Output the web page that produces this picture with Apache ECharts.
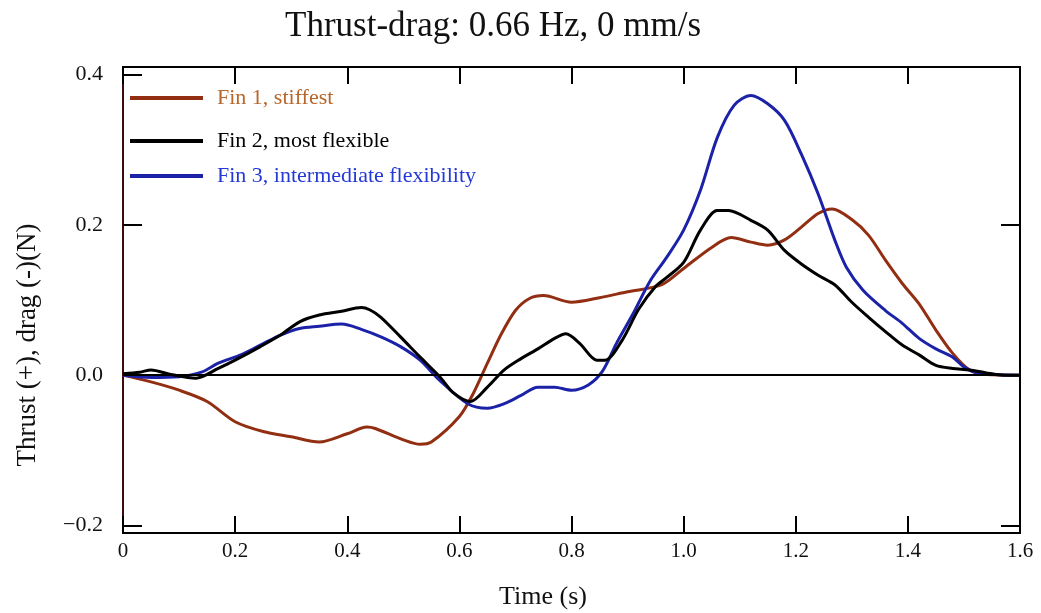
<!DOCTYPE html>
<html>
<head>
<meta charset="utf-8">
<script src="https://cdn.jsdelivr.net/npm/echarts@6/dist/echarts.min.js"></script>
<style>
  html, body { margin: 0; padding: 0; background: #fff; }
  #chart { width: 1041px; height: 613px; }
</style>
</head>
<body>
<div id="chart"></div>
<script>
// 数据：时间 (s) 与推力/阻力 (N)
var fin1Time = [0, 0.05, 0.1, 0.15, 0.2, 0.25, 0.3, 0.35, 0.4, 0.435, 0.45, 0.5, 0.53, 0.55, 0.6, 0.625, 0.65, 0.675, 0.7, 0.725, 0.75, 0.8, 0.85, 0.9, 0.96, 1.0, 1.05, 1.085, 1.12, 1.15, 1.18, 1.21, 1.24, 1.265, 1.3, 1.33, 1.36, 1.39, 1.42, 1.45, 1.48, 1.51, 1.54, 1.6];
var fin1Value = [0, -0.009, -0.020, -0.035, -0.062, -0.075, -0.082, -0.089, -0.078, -0.069, -0.071, -0.086, -0.092, -0.089, -0.055, -0.024, 0.016, 0.055, 0.086, 0.102, 0.106, 0.097, 0.103, 0.111, 0.120, 0.142, 0.170, 0.183, 0.177, 0.173, 0.180, 0.197, 0.215, 0.221, 0.207, 0.186, 0.153, 0.122, 0.095, 0.060, 0.029, 0.007, 0.001, 0];

var fin2Time = [0, 0.03, 0.05, 0.085, 0.13, 0.17, 0.2, 0.245, 0.28, 0.315, 0.35, 0.39, 0.425, 0.44, 0.46, 0.495, 0.53, 0.565, 0.59, 0.62, 0.65, 0.68, 0.71, 0.74, 0.77, 0.79, 0.815, 0.845, 0.86, 0.89, 0.92, 0.95, 0.97, 1.0, 1.03, 1.06, 1.08, 1.12, 1.15, 1.18, 1.21, 1.24, 1.27, 1.3, 1.33, 1.36, 1.39, 1.42, 1.45, 1.48, 1.51, 1.54, 1.57, 1.6];
var fin2Value = [0.002, 0.004, 0.007, 0.001, -0.004, 0.009, 0.020, 0.038, 0.053, 0.071, 0.080, 0.085, 0.090, 0.087, 0.077, 0.051, 0.024, -0.002, -0.024, -0.035, -0.016, 0.007, 0.022, 0.035, 0.049, 0.055, 0.042, 0.020, 0.020, 0.046, 0.088, 0.118, 0.130, 0.150, 0.193, 0.219, 0.219, 0.206, 0.193, 0.166, 0.148, 0.133, 0.120, 0.097, 0.077, 0.058, 0.040, 0.027, 0.013, 0.009, 0.007, 0.003, 0, 0];

var fin3Time = [0, 0.05, 0.1, 0.14, 0.17, 0.21, 0.245, 0.28, 0.315, 0.35, 0.39, 0.425, 0.46, 0.495, 0.53, 0.565, 0.615, 0.65, 0.68, 0.71, 0.74, 0.77, 0.8, 0.83, 0.855, 0.88, 0.91, 0.94, 0.97, 1.0, 1.03, 1.06, 1.09, 1.12, 1.15, 1.18, 1.21, 1.24, 1.27, 1.29, 1.32, 1.36, 1.39, 1.42, 1.45, 1.48, 1.5, 1.525, 1.6];
var fin3Value = [0, -0.003, -0.002, 0.004, 0.016, 0.027, 0.040, 0.053, 0.062, 0.065, 0.068, 0.061, 0.051, 0.038, 0.020, -0.007, -0.038, -0.044, -0.038, -0.027, -0.016, -0.016, -0.020, -0.013, 0.005, 0.042, 0.082, 0.125, 0.157, 0.193, 0.246, 0.316, 0.359, 0.372, 0.361, 0.339, 0.294, 0.241, 0.179, 0.144, 0.113, 0.086, 0.069, 0.049, 0.035, 0.024, 0.011, 0.003, 0];

var yTickValues = [-0.2, 0, 0.2, 0.4];
var yTickValuesRight = [-0.2, 0, 0.2];
var seriesNames = ['Fin 1, stiffest', 'Fin 2, most flexible', 'Fin 3, intermediate flexibility'];

var thrustDragChart = {
	/**
	 * 组合 [时间, 数值] 数据对
	 */
	pairs : function(timeArray, valueArray) {
		var data = [];
		for (var i = 0; i < timeArray.length; i++) {
			data.push([timeArray[i], valueArray[i]]);
		}
		return data;
	},
	/**
	 * 显示图表
	 */
	showChart : function() {
		var myChart = echarts.init(document.getElementById('chart'));
		var serif = 'Liberation Serif';
		var lineColors = ['#922f12', '#000000', '#1c22a8'];
		var textColors = ['#b8662a', '#000000', '#2438d6'];
		var legendTops = [82, 125, 160];
		var legends = [];
		for (var i = 0; i < 3; i++) {
			legends.push({
				left: 125,
				top: legendTops[i],
				icon: 'rect',
				itemWidth: 73,
				itemHeight: 4,
				data: [seriesNames[i]],
				textStyle: {
					fontFamily: serif,
					fontSize: 22,
					color: textColors[i],
					padding: [0, 0, 0, 9]
				}
			});
		}
		var seriesData = [
			thrustDragChart.pairs(fin1Time, fin1Value),
			thrustDragChart.pairs(fin2Time, fin2Value),
			thrustDragChart.pairs(fin3Time, fin3Value)
		];
		var series = [];
		for (var j = 0; j < 3; j++) {
			series.push({
				name: seriesNames[j],
				type: 'line',
				data: seriesData[j],
				showSymbol: false,
				smooth: 0.3,
				z: j == 0 ? 3 : (j == 2 ? 4 : 5),
				lineStyle: { color: lineColors[j], width: 3 },
				itemStyle: { color: lineColors[j] }
			});
		}
		// 零线
		series[0].markLine = {
			silent: true,
			symbol: 'none',
			label: { show: false },
			lineStyle: { color: '#000', width: 2, type: 'solid' },
			data: [{ yAxis: 0 }]
		};

		var option = {
			backgroundColor: '#fff',
			animation: false,
			title: {
				text: 'Thrust-drag: 0.66 Hz, 0 mm/s',
				left: 280,
				top: 4,
				textStyle: { fontFamily: serif, fontSize: 35, fontWeight: 'normal', color: '#111' }
			},
			legend: legends,
			// 坐标轴名称
			graphic: [
				{
					type: 'text',
					x: 543,
					y: 597,
					style: { text: 'Time (s)', font: '26px "Liberation Serif"', fill: '#111', align: 'center', verticalAlign: 'middle' }
				},
				{
					type: 'text',
					x: 28,
					y: 345,
					rotation: Math.PI / 2,
					style: { text: 'Thrust (+), drag (-)(N)', font: '27px "Liberation Serif"', fill: '#111', align: 'center', verticalAlign: 'middle' }
				}
			],
			grid: {
				left: 123,
				right: 21,
				top: 67,
				bottom: 80,
				show: true,
				borderColor: '#000',
				borderWidth: 2
			},
			xAxis: [
				{
					type: 'value',
					min: 0,
					max: 1.6,
					interval: 0.2,
					axisLine: { onZero: false, lineStyle: { color: '#000', width: 2 } },
					axisTick: { inside: true, length: 17, lineStyle: { color: '#000', width: 2 } },
					axisLabel: {
						fontFamily: serif,
						fontSize: 21,
						color: '#111',
						margin: 8,
						formatter: function(v) {
							return v == 0 ? '0' : v.toFixed(1);
						}
					},
					splitLine: { show: false }
				},
				{
					type: 'value',
					position: 'top',
					min: 0,
					max: 1.6,
					interval: 0.2,
					axisLine: { onZero: false, lineStyle: { color: '#000', width: 2 } },
					axisTick: { inside: true, length: 17, lineStyle: { color: '#000', width: 2 } },
					axisLabel: { show: false },
					splitLine: { show: false }
				}
			],
			yAxis: [
				{
					type: 'value',
					min: -0.21,
					max: 0.41,
					axisLine: { onZero: false, lineStyle: { color: '#3a0c0c', width: 2 } },
					axisTick: { inside: true, length: 19, customValues: yTickValues, lineStyle: { color: '#000', width: 2 } },
					axisLabel: {
						fontFamily: serif,
						fontSize: 22,
						color: '#111',
						margin: 20,
						customValues: yTickValues,
						formatter: function(v) {
							var s = Math.abs(v).toFixed(1);
							return v < 0 ? '\u2212' + s : s;
						}
					},
					splitLine: { show: false }
				},
				{
					type: 'value',
					position: 'right',
					min: -0.21,
					max: 0.41,
					axisLine: { onZero: false, lineStyle: { color: '#000', width: 2 } },
					axisTick: { inside: true, length: 19, customValues: yTickValuesRight, lineStyle: { color: '#000', width: 2 } },
					axisLabel: { show: false },
					splitLine: { show: false }
				}
			],
			series: series
		};
		// 显示图表。
		myChart.setOption(option);
	}
};

thrustDragChart.showChart();
</script>
</body>
</html>
